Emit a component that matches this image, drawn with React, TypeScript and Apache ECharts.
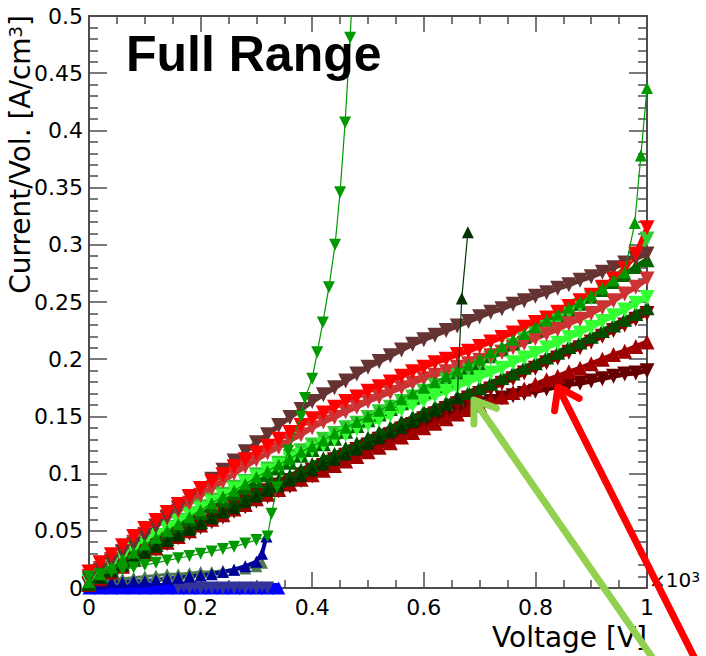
import React, { useEffect, useRef } from "react";
import * as echarts from "echarts";

// ---------- data ----------
const volts = [0,0.02,0.04,0.06,0.08,0.1,0.12,0.14,0.16,0.18,0.2,0.22,0.24,0.26,0.28,0.3,0.32,0.34,0.36,0.38,0.4,0.42,0.44,0.46,0.48,0.5,0.52,0.54,0.56,0.58,0.6,0.62,0.64,0.66,0.68,0.7,0.72,0.74,0.76,0.78,0.8,0.82,0.84,0.86,0.88,0.9,0.92,0.94,0.96,0.98,1];

const brownY = [0.008,0.015,0.023,0.031,0.038,0.046,0.054,0.062,0.070,0.079,0.087,0.095,0.103,0.111,0.119,0.127,0.134,0.142,0.149,0.156,0.163,0.169,0.175,0.181,0.187,0.193,0.198,0.203,0.208,0.213,0.217,0.221,0.225,0.229,0.233,0.237,0.241,0.244,0.248,0.251,0.255,0.258,0.262,0.265,0.269,0.272,0.276,0.280,0.284,0.288,0.292];
const redY = [0.014,0.022,0.029,0.037,0.045,0.052,0.059,0.066,0.073,0.080,0.087,0.093,0.099,0.106,0.112,0.118,0.124,0.130,0.136,0.142,0.148,0.153,0.158,0.163,0.167,0.172,0.176,0.180,0.185,0.189,0.193,0.197,0.200,0.204,0.207,0.211,0.215,0.219,0.223,0.228,0.232,0.236,0.241,0.246,0.251,0.256,0.263,0.270,0.279,0.292,0.315];
const salmonY = [0.010,0.017,0.025,0.032,0.040,0.047,0.054,0.061,0.067,0.074,0.081,0.087,0.093,0.100,0.106,0.112,0.118,0.123,0.129,0.134,0.140,0.145,0.149,0.154,0.158,0.163,0.167,0.171,0.175,0.179,0.183,0.186,0.189,0.193,0.196,0.199,0.203,0.206,0.210,0.214,0.218,0.222,0.226,0.231,0.235,0.240,0.245,0.251,0.257,0.263,0.270];
const limeY = [0.006,0.013,0.020,0.027,0.033,0.040,0.046,0.053,0.059,0.065,0.071,0.077,0.082,0.088,0.093,0.099,0.104,0.109,0.115,0.120,0.125,0.130,0.135,0.140,0.144,0.149,0.154,0.158,0.163,0.167,0.172,0.177,0.182,0.186,0.191,0.196,0.201,0.206,0.212,0.217,0.222,0.228,0.234,0.241,0.247,0.254,0.262,0.270,0.280,0.291,0.305];
const darkGreenY = [0.005,0.011,0.018,0.024,0.031,0.037,0.043,0.049,0.054,0.060,0.066,0.072,0.077,0.083,0.088,0.094,0.099,0.105,0.110,0.116,0.121,0.126,0.131,0.137,0.142,0.147,0.152,0.157,0.162,0.167,0.172,0.177,0.182,0.187,0.192,0.197,0.203,0.209,0.214,0.220,0.226,0.232,0.238,0.243,0.249,0.255,0.261,0.268,0.274,0.281,0.287];
const brightGreenY = [0.006,0.013,0.020,0.027,0.034,0.040,0.046,0.052,0.058,0.064,0.069,0.075,0.080,0.086,0.092,0.097,0.102,0.107,0.112,0.116,0.121,0.125,0.130,0.134,0.139,0.143,0.147,0.151,0.156,0.160,0.164,0.168,0.172,0.176,0.180,0.184,0.188,0.192,0.197,0.201,0.205,0.210,0.214,0.219,0.223,0.228,0.233,0.238,0.243,0.249,0.254];
const deepGreenY = [0.004,0.010,0.016,0.021,0.027,0.033,0.038,0.043,0.048,0.053,0.058,0.063,0.068,0.074,0.079,0.084,0.089,0.094,0.098,0.103,0.108,0.113,0.117,0.122,0.126,0.131,0.136,0.140,0.145,0.149,0.154,0.158,0.162,0.167,0.171,0.175,0.179,0.184,0.188,0.193,0.197,0.202,0.206,0.211,0.215,0.220,0.225,0.230,0.235,0.240,0.245];
const darkRedAY = [0.004,0.010,0.015,0.021,0.026,0.032,0.037,0.042,0.047,0.052,0.057,0.062,0.067,0.071,0.076,0.081,0.085,0.090,0.094,0.099,0.103,0.107,0.112,0.116,0.121,0.125,0.130,0.134,0.139,0.143,0.148,0.152,0.157,0.161,0.166,0.170,0.174,0.179,0.183,0.188,0.192,0.197,0.201,0.206,0.210,0.215,0.220,0.225,0.230,0.235,0.240];
const darkRedBY = [0.003,0.008,0.014,0.019,0.025,0.030,0.035,0.040,0.045,0.050,0.055,0.060,0.064,0.069,0.073,0.078,0.082,0.086,0.091,0.095,0.099,0.103,0.107,0.111,0.115,0.119,0.123,0.127,0.132,0.136,0.140,0.144,0.148,0.152,0.156,0.160,0.164,0.167,0.171,0.174,0.178,0.182,0.185,0.189,0.192,0.196,0.200,0.204,0.207,0.211,0.215];
const maroonY = [0.003,0.008,0.013,0.019,0.024,0.029,0.034,0.039,0.044,0.048,0.053,0.058,0.062,0.067,0.071,0.076,0.080,0.085,0.089,0.094,0.098,0.103,0.107,0.112,0.117,0.122,0.126,0.130,0.135,0.139,0.143,0.147,0.151,0.154,0.158,0.161,0.163,0.166,0.168,0.170,0.172,0.174,0.176,0.178,0.179,0.181,0.183,0.185,0.187,0.188,0.190];

// dark green series that breaks down at ~0.66 kV
const breakAV = [0,0.02,0.04,0.06,0.08,0.1,0.12,0.14,0.16,0.18,0.2,0.22,0.24,0.26,0.28,0.3,0.32,0.34,0.36,0.38,0.4,0.42,0.44,0.46,0.48,0.5,0.52,0.54,0.56,0.58,0.6,0.62,0.64,0.66,0.668,0.679];
const breakAY = [0.004,0.009,0.015,0.020,0.026,0.031,0.036,0.041,0.046,0.051,0.056,0.061,0.066,0.070,0.075,0.080,0.085,0.089,0.094,0.098,0.103,0.108,0.112,0.117,0.121,0.126,0.131,0.136,0.140,0.145,0.150,0.155,0.160,0.166,0.253,0.311];
// green series that breaks down near 1 kV
const breakBV = [0,0.02,0.04,0.06,0.08,0.1,0.12,0.14,0.16,0.18,0.2,0.22,0.24,0.26,0.28,0.3,0.32,0.34,0.36,0.38,0.4,0.42,0.44,0.46,0.48,0.5,0.52,0.54,0.56,0.58,0.6,0.62,0.64,0.66,0.68,0.7,0.72,0.74,0.76,0.78,0.8,0.82,0.84,0.86,0.88,0.9,0.92,0.94,0.96,0.978,0.989,1.0];
const breakBY = [0.005,0.012,0.018,0.025,0.031,0.038,0.044,0.050,0.056,0.062,0.068,0.074,0.080,0.085,0.091,0.097,0.102,0.108,0.113,0.119,0.124,0.129,0.135,0.140,0.145,0.150,0.155,0.160,0.165,0.170,0.175,0.180,0.185,0.190,0.195,0.200,0.206,0.211,0.217,0.222,0.228,0.234,0.239,0.245,0.250,0.256,0.262,0.269,0.276,0.319,0.378,0.437];
// green series that breaks down at ~0.32 kV
const breakCV = [0,0.02,0.04,0.06,0.08,0.1,0.12,0.14,0.16,0.18,0.2,0.22,0.24,0.26,0.28,0.3,0.32,0.327,0.337,0.357,0.38,0.387,0.4,0.409,0.419,0.43,0.441,0.45,0.459,0.468,0.476];
const breakCY = [0.010,0.012,0.014,0.016,0.018,0.020,0.022,0.024,0.026,0.028,0.030,0.032,0.034,0.036,0.039,0.042,0.045,0.065,0.088,0.120,0.150,0.166,0.183,0.206,0.232,0.263,0.300,0.346,0.407,0.481,0.56];

const navyV = [0,0.02,0.04,0.06,0.08,0.1,0.12,0.14,0.16,0.18,0.2,0.22,0.24,0.26,0.28,0.3,0.31,0.318];
const navyY = [0.004,0.004,0.005,0.005,0.006,0.006,0.007,0.008,0.009,0.010,0.011,0.012,0.014,0.016,0.019,0.023,0.030,0.045];
const grayGreenV = [0,0.02,0.04,0.06,0.08,0.1,0.12,0.14,0.16,0.18,0.2,0.22,0.24,0.26,0.28,0.3,0.31];
const grayGreenY = [0.006,0.007,0.008,0.008,0.009,0.010,0.011,0.012,0.012,0.013,0.014,0.014,0.015,0.016,0.017,0.019,0.022];
const blueV = [0,0.02,0.04,0.06,0.08,0.1,0.12,0.14,0.16,0.18,0.2,0.22,0.24,0.26,0.28,0.3,0.32,0.34];
const blueY = [0,0,0,0,0,0,0,0,0,0,0,0,0,0,0,0,0,0];
const slateV = [0.16,0.18,0.2,0.22,0.24,0.26,0.28,0.3,0.32];
const slateY = [0,0,0,0,0,0,0,0,0];

const xTicks = { min: 0, max: 1, interval: 0.2 };
const yTicks = { min: 0, max: 0.5, interval: 0.05 };

// ---------- helpers ----------
const zip = (xs: number[], ys: number[]) => ys.map((y, i) => [xs[i], y]);

type SDef = { xs: number[]; ys: number[]; color: string; down: boolean; size: number; lw: number; z?: number; clip?: boolean };

const defs: SDef[] = [
  { xs: blueV, ys: blueY, color: "#0000ff", down: false, size: 13, lw: 10, clip: false },
  { xs: slateV, ys: slateY, color: "#333399", down: true, size: 13, lw: 10, clip: false },
  { xs: grayGreenV, ys: grayGreenY, color: "#4d7a4d", down: false, size: 12, lw: 3 },
  { xs: navyV, ys: navyY, color: "#00009a", down: false, size: 12, lw: 4 },
  { xs: volts, ys: maroonY, color: "#660000", down: true, size: 15, lw: 5 },
  { xs: volts, ys: darkRedBY, color: "#a00000", down: false, size: 15, lw: 5 },
  { xs: volts, ys: darkRedAY, color: "#8b0000", down: true, size: 15, lw: 5 },
  { xs: volts, ys: deepGreenY, color: "#004d00", down: false, size: 15, lw: 5 },
  { xs: volts, ys: darkGreenY, color: "#006600", down: false, size: 15, lw: 5 },
  { xs: volts, ys: limeY, color: "#33cc33", down: true, size: 15, lw: 5 },
  { xs: volts, ys: brightGreenY, color: "#33ff33", down: true, size: 15, lw: 5 },
  { xs: volts, ys: salmonY, color: "#cc3333", down: true, size: 15, lw: 5 },
  { xs: volts, ys: brownY, color: "#663333", down: true, size: 15, lw: 5 },
  { xs: volts, ys: redY, color: "#ff0000", down: true, size: 15, lw: 5 },
  { xs: breakAV, ys: breakAY, color: "#003300", down: false, size: 12, lw: 1.2, z: 3 },
  { xs: breakBV, ys: breakBY, color: "#009900", down: false, size: 12, lw: 1.2, z: 3 },
  { xs: breakCV, ys: breakCY, color: "#009900", down: true, size: 12, lw: 1.2, z: 3 },
];

const AX = "#4d4d4d";
const FONT = "DejaVu Sans";

function arrow(color: string, tip: number[], u: number[], shaft: number, head: number) {
  const rot = (a: number) => [u[0] * Math.cos(a) - u[1] * Math.sin(a), u[0] * Math.sin(a) + u[1] * Math.cos(a)];
  const r1 = rot((35 * Math.PI) / 180);
  const r2 = rot((-35 * Math.PI) / 180);
  return [
    {
      type: "line",
      z: 100,
      shape: { x1: tip[0], y1: tip[1], x2: tip[0] + u[0] * shaft, y2: tip[1] + u[1] * shaft },
      style: { stroke: color, lineWidth: 7, lineCap: "butt" },
    },
    {
      type: "polyline",
      z: 100,
      shape: {
        points: [
          [tip[0] + r1[0] * head, tip[1] + r1[1] * head],
          [tip[0], tip[1]],
          [tip[0] + r2[0] * head, tip[1] + r2[1] * head],
        ],
      },
      style: { stroke: color, lineWidth: 7, lineJoin: "round", lineCap: "round", fill: "none" },
    },
  ];
}

function buildOption() {
  const tickBase = {
    axisLine: { show: true, onZero: false, lineStyle: { color: AX, width: 2 } },
    splitLine: { show: false },
    minorSplitLine: { show: false },
  };
  const series = defs.map((d) => ({
    type: "line",
    xAxisIndex: 0,
    yAxisIndex: 0,
    data: zip(d.xs, d.ys),
    symbol: "triangle",
    symbolSize: d.size,
    symbolRotate: d.down ? 180 : 0,
    showSymbol: true,
    clip: d.clip !== false,
    z: d.z ?? 2,
    itemStyle: { color: d.color, borderWidth: 0 },
    lineStyle: { color: d.color, width: d.lw },
    emphasis: { disabled: true },
    silent: true,
  }));

  return {
    animation: false,
    backgroundColor: "#ffffff",
    grid: { left: 89, top: 16, width: 558, height: 572, containLabel: false },
    xAxis: [
      {
        type: "value",
        position: "bottom",
        ...xTicks,
        ...tickBase,
        axisTick: { show: true, inside: true, length: 16, lineStyle: { color: AX, width: 1.5 } },
        minorTick: { show: true, splitNumber: 4, length: 8, lineStyle: { color: AX, width: 1.5 } },
        axisLabel: { show: true, fontSize: 22, fontFamily: FONT, color: "#000", margin: 8 },
      },
      {
        type: "value",
        position: "top",
        ...xTicks,
        ...tickBase,
        axisTick: { show: true, inside: true, length: 16, lineStyle: { color: AX, width: 1.5 } },
        minorTick: { show: true, splitNumber: 4, length: 8, lineStyle: { color: AX, width: 1.5 } },
        axisLabel: { show: false },
      },
    ],
    yAxis: [
      {
        type: "value",
        position: "left",
        ...yTicks,
        ...tickBase,
        axisTick: { show: true, inside: true, length: 18, lineStyle: { color: AX, width: 1.5 } },
        minorTick: { show: true, splitNumber: 5, length: 9, lineStyle: { color: AX, width: 1.5 } },
        axisLabel: { show: true, fontSize: 22, fontFamily: FONT, color: "#000", margin: 6 },
      },
      {
        type: "value",
        position: "right",
        ...yTicks,
        ...tickBase,
        axisTick: { show: true, inside: true, length: 18, lineStyle: { color: AX, width: 1.5 } },
        minorTick: { show: true, splitNumber: 5, length: 9, lineStyle: { color: AX, width: 1.5 } },
        axisLabel: { show: false },
      },
    ],
    series,
    graphic: [
      {
        type: "text",
        x: 126,
        y: 54,
        z: 50,
        style: {
          text: "Full Range",
          fontFamily: "Liberation Sans",
          fontWeight: "bold",
          fontSize: 50,
          fill: "#000",
          align: "left",
          verticalAlign: "middle",
        },
      },
      {
        type: "text",
        x: 20,
        y: 15,
        rotation: Math.PI / 2,
        z: 50,
        style: {
          text: "{a|Current/Vol. [A/cm}{b|3}{a|]}",
          align: "right",
          verticalAlign: "middle",
          rich: {
            a: { fontSize: 28, fontFamily: FONT, fill: "#000" },
            b: { fontSize: 18, fontFamily: FONT, fill: "#000", verticalAlign: "top" },
          },
        },
      },
      {
        type: "text",
        x: 647,
        y: 637,
        z: 50,
        style: {
          text: "Voltage [V]",
          fontSize: 28,
          fontFamily: FONT,
          fill: "#000",
          align: "right",
          verticalAlign: "middle",
        },
      },
      {
        type: "text",
        x: 649,
        y: 580,
        z: 50,
        style: {
          text: "{a|×10}{b|3}",
          align: "left",
          verticalAlign: "middle",
          rich: {
            a: { fontSize: 20, fontFamily: FONT, fill: "#000" },
            b: { fontSize: 14, fontFamily: FONT, fill: "#000", verticalAlign: "top" },
          },
        },
      },
      ...arrow("#92d050", [474, 400], [0.569, 0.822], 330, 24),
      ...arrow("#ff0000", [558, 387], [0.45, 0.893], 330, 24),
    ],
  };
}

export default function App() {
  const ref = useRef<HTMLDivElement>(null);
  useEffect(() => {
    if (!ref.current) return;
    const chart = echarts.init(ref.current, null, { renderer: "svg" });
    chart.setOption(buildOption() as any);
    return () => chart.dispose();
  }, []);
  return (
    <div
      ref={ref}
      style={{ position: "absolute", left: 0, top: 0, width: 706, height: 656, background: "#fff" }}
    />
  );
}
